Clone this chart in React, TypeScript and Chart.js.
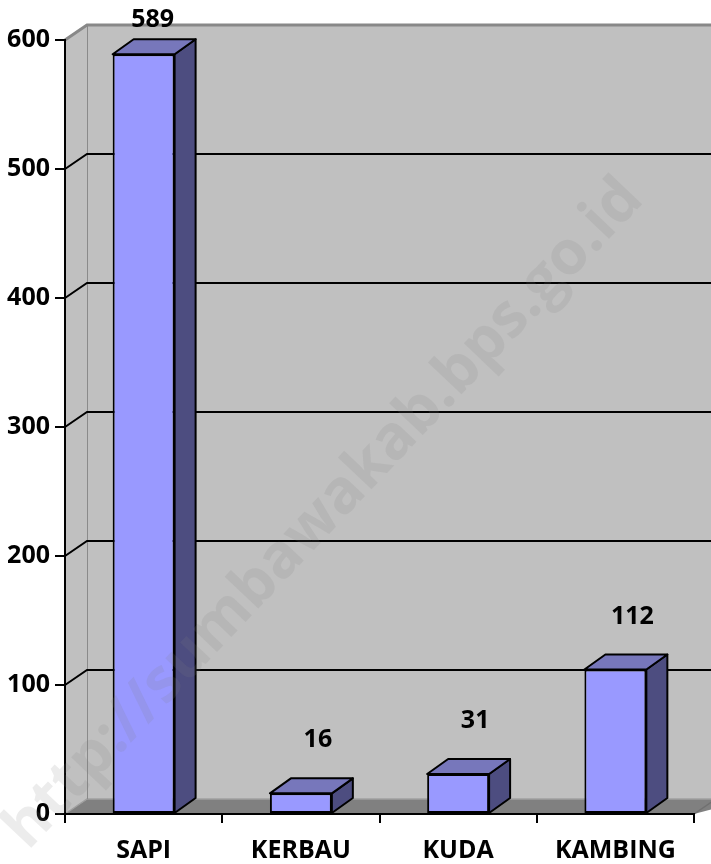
import React, { useEffect, useRef } from "react";
import { Chart, registerables } from "chart.js";
Chart.register(...registerables);

const categories = ["SAPI", "KERBAU", "KUDA", "KAMBING"];
const values = [589, 16, 31, 112];
const yTicks = [0, 100, 200, 300, 400, 500, 600];
const watermark = "http://sumbawakab.bps.go.id";

const WALL_DX = 22;
const WALL_DY = -15;
const BAR_DX = 21;
const BAR_DY = -15;
const FONT = '"Open Sans", "DejaVu Sans", sans-serif';
const FONT_SIZE = 25;

export default function App() {
  const ref = useRef<HTMLCanvasElement>(null);

  useEffect(() => {
    document.body.style.margin = "0";
    const canvas = ref.current;
    if (!canvas) return;

    const plugin = {
      id: "threeD",
      beforeDraw(chart: any) {
        const { ctx, chartArea: a, scales } = chart;
        const ys = scales.y;
        const W = chart.width;
        ctx.save();
        // back wall
        ctx.fillStyle = "#c0c0c0";
        ctx.fillRect(a.left + WALL_DX, a.top + WALL_DY, W - (a.left + WALL_DX), a.bottom - a.top);
        // side wall
        ctx.beginPath();
        ctx.moveTo(a.left, a.top);
        ctx.lineTo(a.left + WALL_DX, a.top + WALL_DY);
        ctx.lineTo(a.left + WALL_DX, a.bottom + WALL_DY);
        ctx.lineTo(a.left, a.bottom);
        ctx.closePath();
        ctx.fill();
        // floor
        ctx.fillStyle = "#808080";
        ctx.beginPath();
        ctx.moveTo(a.left, a.bottom);
        ctx.lineTo(a.left + WALL_DX, a.bottom + WALL_DY);
        ctx.lineTo(W + 40, a.bottom + WALL_DY);
        ctx.lineTo(a.right, a.bottom);
        ctx.closePath();
        ctx.fill();
        // floor back edge
        ctx.strokeStyle = "#a0a0a0";
        ctx.lineWidth = 1.5;
        ctx.beginPath();
        ctx.moveTo(a.left, a.bottom);
        ctx.lineTo(a.left + WALL_DX, a.bottom + WALL_DY);
        ctx.lineTo(W, a.bottom + WALL_DY);
        ctx.stroke();
        // floor right edge
        ctx.strokeStyle = "#707070";
        ctx.beginPath();
        ctx.moveTo(a.right, a.bottom);
        ctx.lineTo(a.right + WALL_DX, a.bottom + WALL_DY);
        ctx.stroke();
        // back wall left edge
        ctx.strokeStyle = "#8a8a8a";
        ctx.lineWidth = 1;
        ctx.beginPath();
        ctx.moveTo(a.left + WALL_DX + 0.5, a.top + WALL_DY);
        ctx.lineTo(a.left + WALL_DX + 0.5, a.bottom + WALL_DY);
        ctx.stroke();
        // gridlines
        const maxV = yTicks[yTicks.length - 1];
        for (const v of yTicks) {
          if (v === 0) continue;
          const yy = ys.getPixelForValue(v);
          const top = v === maxV;
          ctx.strokeStyle = top ? "#888888" : "#000000";
          ctx.lineWidth = top ? 3 : 2;
          ctx.beginPath();
          ctx.moveTo(a.left, yy);
          ctx.lineTo(a.left + WALL_DX, yy + WALL_DY);
          ctx.lineTo(W, yy + WALL_DY);
          ctx.stroke();
        }
        ctx.restore();
      },
      afterDatasetsDraw(chart: any) {
        const { ctx } = chart;
        const meta = chart.getDatasetMeta(0);
        ctx.save();
        ctx.lineJoin = "round";
        meta.data.forEach((bar: any, i: number) => {
          const w = bar.width;
          const x1 = bar.x - w / 2;
          const x2 = bar.x + w / 2;
          const yt = bar.y;
          const yb = bar.base;
          ctx.lineWidth = 2;
          ctx.strokeStyle = "#000";
          // side face
          ctx.fillStyle = "#4d4d80";
          ctx.beginPath();
          ctx.moveTo(x2, yt);
          ctx.lineTo(x2 + BAR_DX, yt + BAR_DY);
          ctx.lineTo(x2 + BAR_DX, yb + BAR_DY);
          ctx.lineTo(x2, yb);
          ctx.closePath();
          ctx.fill();
          ctx.stroke();
          // top face
          ctx.fillStyle = "#7777bb";
          ctx.beginPath();
          ctx.moveTo(x1, yt);
          ctx.lineTo(x1 + BAR_DX, yt + BAR_DY);
          ctx.lineTo(x2 + BAR_DX, yt + BAR_DY);
          ctx.lineTo(x2, yt);
          ctx.closePath();
          ctx.fill();
          ctx.stroke();
          // value label
          ctx.fillStyle = "#000";
          ctx.font = `bold ${FONT_SIZE}px ${FONT}`;
          ctx.textAlign = "center";
          ctx.textBaseline = "middle";
          const raw = yt + BAR_DY - 38;
          const ly = Math.max(raw, 20);
          const lx = raw < 20 ? bar.x + 9 : bar.x + 17;
          ctx.fillText(String(values[i]), lx, ly);
        });
        ctx.restore();
      },
      afterDraw(chart: any) {
        const { ctx } = chart;
        ctx.save();
        ctx.translate(324, 514);
        ctx.rotate((-46.5 * Math.PI) / 180);
        ctx.font = `bold 61px ${FONT}`;
        ctx.fillStyle = "rgba(128,128,128,0.15)";
        ctx.textAlign = "center";
        ctx.textBaseline = "middle";
        ctx.fillText(watermark, 0, 0);
        ctx.restore();
      },
    };

    const chart = new Chart(canvas, {
      type: "bar",
      data: {
        labels: categories,
        datasets: [
          {
            data: values,
            backgroundColor: "#9999ff",
            borderColor: "#000000",
            borderWidth: 2,
            borderSkipped: false,
            barPercentage: 0.394,
            categoryPercentage: 1,
          },
        ],
      },
      options: {
        responsive: false,
        animation: false,
        devicePixelRatio: 1,
        layout: { padding: { top: 40, right: 17, left: 0, bottom: 0 } },
        plugins: { legend: { display: false }, tooltip: { enabled: false } },
        scales: {
          x: {
            grid: {
              offset: true,
              drawOnChartArea: false,
              drawTicks: true,
              tickLength: 9,
              color: "#000",
              lineWidth: 2,
            },
            border: { color: "#000", width: 2 },
            ticks: {
              color: "#000",
              font: { family: FONT, size: FONT_SIZE, weight: "bold" },
              padding: 13,
              maxRotation: 0,
            },
            afterFit: (s: any) => {
              s.height = 50;
            },
          },
          y: {
            min: 0,
            max: 600,
            ticks: {
              stepSize: 100,
              color: "#000",
              font: { family: FONT, size: FONT_SIZE, weight: "bold" },
              padding: 5,
            },
            grid: {
              drawOnChartArea: false,
              drawTicks: true,
              tickLength: 10,
              color: "#000",
              lineWidth: 2,
            },
            border: { color: "#000", width: 2 },
            afterFit: (s: any) => {
              s.width = 65;
            },
          },
        },
      },
      plugins: [plugin],
    });
    return () => chart.destroy();
  }, []);

  return <canvas ref={ref} width={711} height={864} style={{ display: "block" }} />;
}
